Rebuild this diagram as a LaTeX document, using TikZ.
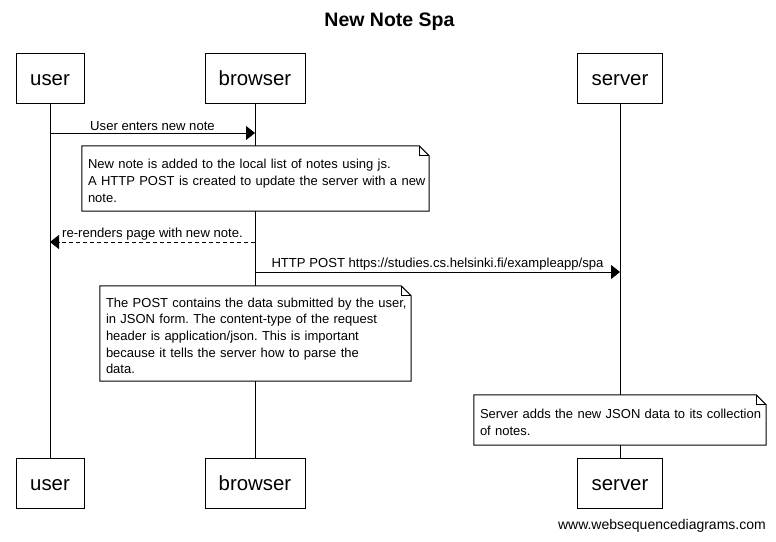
\documentclass[tikz,border=0pt]{standalone}
\usepackage{fontspec}
\setmainfont{Liberation Sans}
\usetikzlibrary{arrows.meta}

\tikzset{
  actor/.style={draw, line width=1pt, minimum height=50pt, inner sep=0pt,
    text height=17.6pt, text depth=3.4pt, font=\fontsize{20.4}{24}\selectfont},
  life/.style={line width=1pt},
  msg/.style={line width=1pt, -{Triangle[length=9pt,width=14pt]}},
  reply/.style={msg, dash pattern=on 4pt off 3pt},
  lbl/.style={above, inner sep=1.5pt, font=\fontsize{13.1}{15}\selectfont},
  note/.style={fill=white, inner xsep=6pt, inner ysep=0pt, align=left,
    text height=14pt, font=\fontsize{13}{16.7}\selectfont},
}
\newcommand\dogear[1]{%
  \draw[line width=1pt] (#1.north west) -- ([xshift=-10pt]#1.north east)
    -- ([yshift=-10pt]#1.north east) -- (#1.south east) -- (#1.south west) -- cycle;
  \draw[line width=0.8pt] ([xshift=-10pt]#1.north east)
    -- ([xshift=-10pt,yshift=-10pt]#1.north east) -- ([yshift=-10pt]#1.north east);}

\begin{document}
\frenchspacing
\begin{tikzpicture}[x=1pt,y=-1pt]
  \useasboundingbox (0,0) rectangle (776,541);
  \node[font=\bfseries\fontsize{19.5}{22}\selectfont] (title) at (389.5,22) {New Note Spa};
  % participants
  \node[actor, minimum width=68pt] (user) at (50,78) {user};
  \node[actor, minimum width=100pt] (browser) at (255,78) {browser};
  \node[actor, minimum width=85pt] (server) at (620,78) {server};
  \node[actor, minimum width=68pt] (userb) at (50,483.5) {user};
  \node[actor, minimum width=100pt] (browserb) at (255,483.5) {browser};
  \node[actor, minimum width=85pt] (serverb) at (620,483.5) {server};
  % lifelines
  \draw[life] (user) -- (userb);
  \draw[life] (browser) -- (browserb);
  \draw[life] (server) -- (serverb);
  % messages
  \coordinate (m1u) at (50,133);
  \coordinate (m1b) at (255,133);
  \draw[msg] (m1u) -- node[lbl] {User enters new note} (m1b);
  \node[note, text width=335pt, minimum height=65pt] (n1) at (255.5,178.5)
    {New note is added to the local list of notes using js.\\
     \mbox{A HTTP POST is created to update the server with a new}\\
     note.};
  \dogear{n1}
  \coordinate (m2b) at (255,242);
  \coordinate (m2u) at (50,242);
  \draw[reply] (m2b) -- node[lbl] {re-renders page with new note.} (m2u);
  \coordinate (m3b) at (255,272);
  \coordinate (m3s) at (620,272);
  \draw[msg] (m3b) -- node[lbl] {HTTP POST https://studies.cs.helsinki.fi/exampleapp/spa} (m3s);
  \node[note, text width=299pt, minimum height=95pt] (n2) at (255.5,333.5)
    {\mbox{The POST contains the data submitted by the user,}\\
     in JSON form. The content-type of the request\\
     header is application/json. This is important\\
     because it tells the server how to parse the\\
     data.};
  \dogear{n2}
  \node[note, text width=280pt, minimum height=50pt] (n3) at (620,420)
    {\mbox{Server adds the new JSON data to its collection}\\
     of notes.};
  \dogear{n3}
  \node[anchor=east, inner sep=0pt, font=\fontsize{14}{16}\selectfont] (site) at (766,526)
    {www.websequencediagrams.com};
\end{tikzpicture}
\end{document}
